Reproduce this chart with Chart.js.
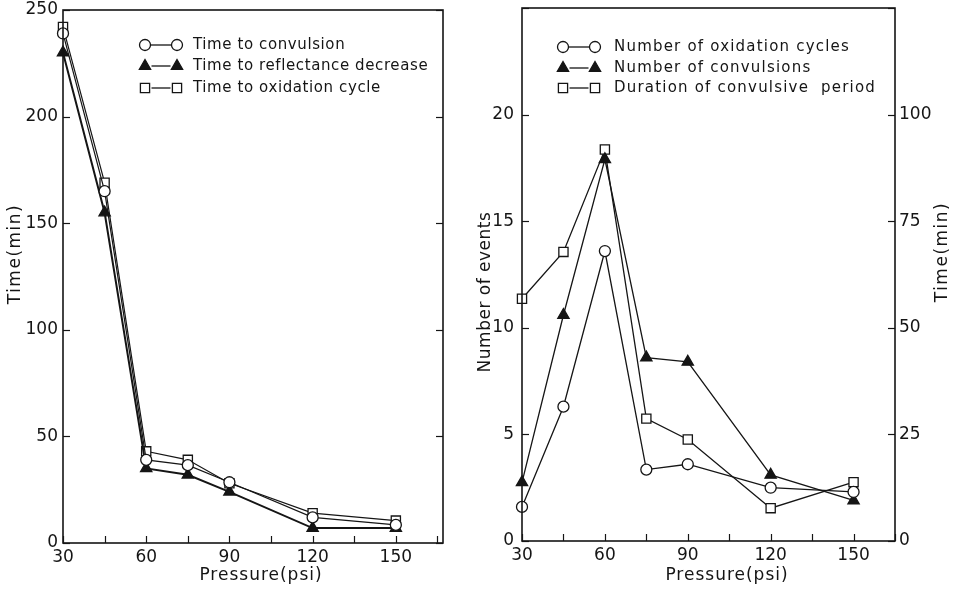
<!DOCTYPE html>
<html>
<head>
<meta charset="utf-8">
<script src="https://cdn.jsdelivr.net/npm/chart.js@4.4.1/dist/chart.umd.min.js"></script>
<style>
  body { margin: 0; background: #fff; width: 955px; height: 595px; overflow: hidden; position: relative; }
  canvas { position: absolute; top: 0; }
  #timeChart { left: 0; }
  #eventChart { left: 470px; }
</style>
</head>
<body>
<canvas id="timeChart" width="470" height="595"></canvas>
<canvas id="eventChart" width="485" height="595"></canvas>
<script>
// pressure steps (psi)
const pressure = [30, 45, 60, 75, 90, 120, 150];

// left panel, minutes
const timeToConvulsion = [239, 165, 39, 36.5, 28.5, 12, 8.5];
const timeToReflectance = [230, 155, 35, 32, 24, 7, 7];
const timeToOxidation = [242, 169, 43, 39, 28, 14, 10.5];

// right panel: counts on the left axis, minutes on the right axis
const oxidationCycles = [1.6, 6.3, 13.6, 3.35, 3.6, 2.5, 2.3];
const convulsionCount = [2.75, 10.6, 17.9, 8.6, 8.4, 3.1, 1.9];
const convulsivePeriod = [56.8, 67.8, 91.8, 28.7, 23.8, 7.7, 13.8];

// labelled tick values
const pressureLabels = [30, 60, 90, 120, 150];
const minuteLabels = [0, 50, 100, 150, 200, 250];
const eventLabels = [0, 5, 10, 15, 20];
const periodLabels = [0, 25, 50, 75, 100];

const ink = '#151515';
const family = '"DejaVu Sans", sans-serif';
const tickFont = { family: family, size: 17 };

function strokeLine(ctx, x1, y1, x2, y2) {
  ctx.beginPath();
  ctx.moveTo(x1, y1);
  ctx.lineTo(x2, y2);
  ctx.stroke();
}

// box around the plot, inward tick marks, the marker legend and axis titles
const framePlugin = {
  id: 'frame',
  afterDraw(chart, args, opts) {
    const { ctx, chartArea: a, scales } = chart;
    ctx.save();
    ctx.strokeStyle = ink;
    ctx.lineWidth = 1.6;
    ctx.strokeRect(a.left, a.top, a.right - a.left, a.bottom - a.top);

    ctx.lineWidth = 1.2;
    const len = 7;
    scales.x.ticks.forEach(t => {
      const px = Math.round(scales.x.getPixelForValue(t.value)) + 0.5;
      strokeLine(ctx, px, a.bottom, px, a.bottom - len);
    });
    opts.yTicks.forEach(({ id, edges }) => {
      const s = scales[id];
      s.ticks.forEach(t => {
        const py = Math.round(s.getPixelForValue(t.value)) + 0.5;
        edges.forEach(e => {
          if (e === 'left') strokeLine(ctx, a.left, py, a.left + len, py);
          else strokeLine(ctx, a.right, py, a.right - len, py);
        });
      });
    });

    // legend rows: marker - marker  label
    const lg = opts.legend;
    ctx.font = lg.font;
    ctx.letterSpacing = lg.spacing;
    ctx.textBaseline = 'middle';
    chart.data.datasets.forEach((ds, i) => {
      const y = lg.rows[i];
      const [m1, m2, tx] = lg.cols;
      const r = ds.pointRadius;
      const style = { pointStyle: ds.pointStyle, radius: r, rotation: 0, borderWidth: ds.pointBorderWidth };
      ctx.strokeStyle = ink;
      ctx.lineWidth = 1.3;
      strokeLine(ctx, m1 + r, y, m2 - r, y);
      ctx.fillStyle = ds.pointBackgroundColor;
      ctx.lineWidth = ds.pointBorderWidth;
      Chart.helpers.drawPoint(ctx, style, m1, y);
      Chart.helpers.drawPoint(ctx, style, m2, y);
      ctx.fillStyle = ink;
      ctx.fillText(ds.label, tx, y);
    });

    // axis titles
    ctx.font = opts.titles.font;
    ctx.textAlign = 'center';
    opts.titles.items.forEach(({ text, x, y, rotate, spacing }) => {
      ctx.save();
      ctx.letterSpacing = spacing || '0px';
      ctx.translate(x, y);
      if (rotate) ctx.rotate(-Math.PI / 2);
      ctx.fillText(text, 0, 0);
      ctx.restore();
    });
    ctx.restore();
  }
};

function series(label, values, kind, lineWidth, axis) {
  return {
    label: label,
    data: pressure.map((p, i) => ({ x: p, y: values[i] })),
    yAxisID: axis || 'y',
    borderColor: ink,
    borderWidth: lineWidth,
    pointStyle: kind,
    pointRadius: kind === 'circle' ? 5.5 : 6.5,
    pointBackgroundColor: kind === 'triangle' ? ink : '#fff',
    pointBorderColor: ink,
    pointBorderWidth: 1.3,
    tension: 0,
    clip: false
  };
}

function pressureAxis(max, height) {
  return {
    type: 'linear',
    position: 'bottom',
    min: 30,
    max: max,
    afterFit: s => { s.height = height; s.paddingLeft = 0; s.paddingRight = 0; },
    grid: { display: false, drawTicks: false },
    border: { display: false },
    ticks: {
      stepSize: 15,
      includeBounds: false,
      autoSkip: false,
      maxRotation: 0,
      padding: 4,
      color: ink,
      font: tickFont,
      callback: v => pressureLabels.includes(v) ? v : ''
    }
  };
}

function valueAxis(position, max, step, labels, width, pad) {
  return {
    type: 'linear',
    position: position,
    min: 0,
    max: max,
    afterFit: s => { s.width = width; s.paddingTop = 0; s.paddingBottom = 0; },
    grid: { display: false, drawTicks: false },
    border: { display: false },
    ticks: {
      stepSize: step,
      autoSkip: false,
      padding: pad,
      color: ink,
      font: tickFont,
      callback: v => labels.includes(v) ? v : ''
    }
  };
}

const common = {
  responsive: false,
  animation: false,
  events: []
};

new Chart(document.getElementById('timeChart'), {
  type: 'line',
  data: {
    datasets: [
      series('Time to convulsion', timeToConvulsion, 'circle', 1.2),
      series('Time to reflectance decrease', timeToReflectance, 'triangle', 2),
      series('Time to oxidation cycle', timeToOxidation, 'rect', 1.2)
    ]
  },
  options: Object.assign({}, common, {
    layout: { padding: { top: 10, left: 0, right: 27, bottom: 0 } },
    scales: {
      x: pressureAxis(167, 52),
      y: valueAxis('left', 250, 50, minuteLabels, 63, 5)
    },
    plugins: {
      legend: { display: false },
      tooltip: { enabled: false },
      frame: {
        yTicks: [{ id: 'y', edges: ['left', 'right'] }],
        legend: { font: '15px ' + family, spacing: '0.6px', rows: [45, 66, 88], cols: [145, 177, 193] },
        titles: {
          font: '17px ' + family,
          items: [
            { text: 'Time(min)', x: 16, y: 254, rotate: true, spacing: '1.5px' },
            { text: 'Pressure(psi)', x: 261, y: 576, spacing: '1px' }
          ]
        }
      }
    }
  }),
  plugins: [framePlugin]
});

new Chart(document.getElementById('eventChart'), {
  type: 'line',
  data: {
    datasets: [
      series('Number of oxidation cycles', oxidationCycles, 'circle', 1.3),
      series('Number of convulsions', convulsionCount, 'triangle', 1.3),
      series('Duration of convulsive  period', convulsivePeriod, 'rect', 1.3, 'y2')
    ]
  },
  options: Object.assign({}, common, {
    layout: { padding: { top: 8, left: 0, right: 0, bottom: 0 } },
    scales: {
      x: pressureAxis(165, 54),
      y: valueAxis('left', 25, 5, eventLabels, 52, 8),
      y2: valueAxis('right', 125, 25, periodLabels, 60, 4)
    },
    plugins: {
      legend: { display: false },
      tooltip: { enabled: false },
      frame: {
        yTicks: [{ id: 'y', edges: ['left'] }, { id: 'y2', edges: ['right'] }],
        legend: { font: '15px ' + family, spacing: '1.2px', rows: [47, 68, 88], cols: [93, 125, 144] },
        titles: {
          font: '17px ' + family,
          items: [
            { text: 'Number of events', x: 16, y: 292, rotate: true, spacing: '0.5px' },
            { text: 'Time(min)', x: 473, y: 252, rotate: true, spacing: '1.5px' },
            { text: 'Pressure(psi)', x: 257, y: 576, spacing: '1px' }
          ]
        }
      }
    }
  }),
  plugins: [framePlugin]
});
</script>
</body>
</html>
